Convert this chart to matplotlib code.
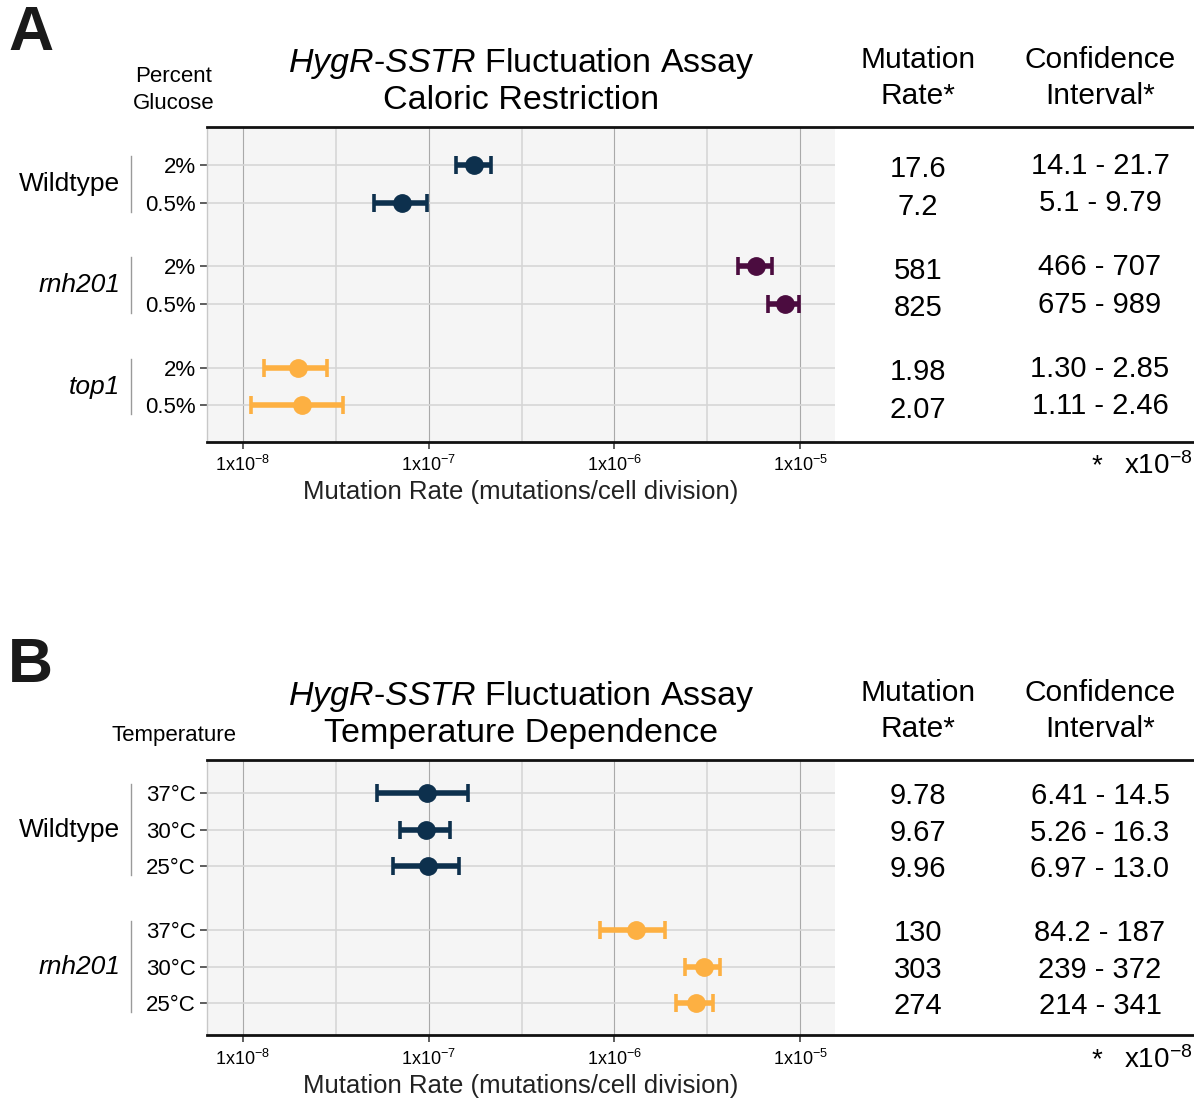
import matplotlib
matplotlib.use("Agg")
import matplotlib.pyplot as plt
import matplotlib.transforms as mtransforms
from matplotlib.lines import Line2D
import numpy as np

plt.rcParams["font.family"] = ["Liberation Sans", "DejaVu Sans"]
plt.rcParams["mathtext.fontset"] = "custom"
plt.rcParams["mathtext.rm"] = "Liberation Sans"
plt.rcParams["mathtext.it"] = "Liberation Sans:italic"
plt.rcParams["mathtext.bf"] = "Liberation Sans:bold"

# ---- panel A: caloric restriction (rates in units of 1e-8) ----
glucose_groups = ["Wildtype", "rnh201", "top1"]
glucose_levels = ["2%", "0.5%"]
glucose_rate = [17.6, 7.2, 581, 825, 1.98, 2.07]
glucose_lo = [14.1, 5.1, 466, 675, 1.30, 1.11]
glucose_hi = [21.7, 9.79, 707, 989, 2.85, 3.45]
glucose_rate_text = ["17.6", "7.2", "581", "825", "1.98", "2.07"]
glucose_ci_text = ["14.1 - 21.7", "5.1 - 9.79", "466 - 707", "675 - 989",
                   "1.30 - 2.85", "1.11 - 2.46"]

# ---- panel B: temperature dependence ----
temp_groups = ["Wildtype", "rnh201"]
temp_levels = ["37°C", "30°C", "25°C"]
temp_rate = [9.78, 9.67, 9.96, 130, 303, 274]
temp_lo = [5.26, 6.97, 6.41, 84.2, 239, 214]
temp_hi = [16.3, 13.0, 14.5, 187, 372, 341]
temp_rate_text = ["9.78", "9.67", "9.96", "130", "303", "274"]
temp_ci_text = ["6.41 - 14.5", "5.26 - 16.3", "6.97 - 13.0", "84.2 - 187",
                "239 - 372", "214 - 341"]

NAVY = "#0d304d"
PURPLE = "#4b0c3f"
ORANGE = "#fdb042"
glucose_colors = [NAVY, PURPLE, ORANGE]
temp_colors = [NAVY, ORANGE]

W, H = 1194, 1101
fig = plt.figure(figsize=(W / 100, H / 100), dpi=100)


def fx(px):
    return px / W


def fy(py):
    return 1 - py / H


def draw_panel(top, bottom, groups, levels, rate, lo, hi, colors,
               rate_text, ci_text, gap, ylim, title2, side_label, letter,
               rate_off, ci_off):
    left, right = 207, 835
    ax = fig.add_axes([fx(left), fy(bottom), fx(right) - fx(left), (bottom - top) / H])
    ax.set_facecolor("#f5f5f5")
    ax.set_xscale("log")
    ax.set_xlim(10 ** -8.1935, 10 ** -4.812)
    ax.set_ylim(*ylim)

    n = len(levels)
    pos = []
    for g in range(len(groups)):
        for i in range(n):
            pos.append(g * (n + gap) + i)
    pos = np.array(pos)

    # grid
    for d in [-8, -7, -6, -5]:
        ax.axvline(10.0 ** d, color="#a9a9a9", lw=0.8, zorder=0)
    for d in [-7.5, -6.5, -5.5]:
        ax.axvline(10.0 ** d, color="#d6d6d6", lw=1.2, zorder=0)
    for p in pos:
        ax.axhline(p, color="#d6d6d6", lw=1.2, zorder=0)

    r = np.array(rate) * 1e-8
    l = np.array(lo) * 1e-8
    h = np.array(hi) * 1e-8
    for k in range(len(pos)):
        c = colors[k // n]
        ax.errorbar(r[k], pos[k], xerr=[[r[k] - l[k]], [h[k] - r[k]]], fmt="none",
                    ecolor=c, elinewidth=4.0, capsize=6.5, capthick=2.6, zorder=3)
        ax.plot(r[k], pos[k], "o", color=c, ms=12.5, mec=c, zorder=4)

    ax.set_yticks(pos)
    ax.set_yticklabels(levels * len(groups), fontsize=16)
    ax.set_xticks([1e-8, 1e-7, 1e-6, 1e-5])
    ax.set_xticklabels([r"$\mathrm{1x10^{-%d}}$" % d for d in [8, 7, 6, 5]], fontsize=13)
    ax.minorticks_off()
    ax.tick_params(axis="y", length=5, width=1.1, color="#333333", pad=3)
    ax.tick_params(axis="x", length=5, width=1.1, color="#333333", pad=5)
    for s in ["top", "right", "bottom"]:
        ax.spines[s].set_visible(False)
    ax.spines["left"].set_color("#c8c8c8")
    ax.spines["left"].set_linewidth(1)

    # heavy rules across plot and table
    span = (W - left) / (right - left)
    for yy in [0, 1]:
        ax.add_line(Line2D([0, span], [yy, yy], transform=ax.transAxes, color="#111111",
                           lw=2.0, clip_on=False, zorder=5))

    # group labels + separators
    trans = mtransforms.blended_transform_factory(fig.transFigure, ax.transData)
    for g, name in enumerate(groups):
        p0, p1 = pos[g * n], pos[g * n + n - 1]
        style = "normal" if name == "Wildtype" else "italic"
        fig.text(fx(120), (p0 + p1) / 2, name, transform=trans, ha="right",
                 va="center", fontsize=19, style=style)
        fig.add_artist(Line2D([fx(131), fx(131)], [p0 - 0.24, p1 + 0.24], transform=trans,
                              color="#9a9a9a", lw=1.0))

    # table
    for k, p in enumerate(pos):
        fig.text(fx(918), p + rate_off, rate_text[k], transform=trans, ha="center",
                 va="center", fontsize=21)
        fig.text(fx(1100), p + ci_off, ci_text[k], transform=trans, ha="center",
                 va="center", fontsize=21)

    head_y = top - 49
    fig.text(fx(918), fy(head_y), "Mutation\nRate*", ha="center", va="center",
             fontsize=21.5, linespacing=1.32)
    fig.text(fx(1100), fy(head_y), "Confidence\nInterval*", ha="center", va="center",
             fontsize=21.5, linespacing=1.32)
    fig.text(fx(521), fy(top - 46), r"$\mathit{HygR}$-$\mathit{SSTR}$ Fluctuation Assay"
             + "\n" + title2, ha="center", va="center", fontsize=24.5, linespacing=1.2)
    fig.text(fx(174), fy(top - 37 if "\n" in side_label else top - 24), side_label,
             ha="center", va="center", fontsize=16, linespacing=1.38)

    fig.text(fx(521), fy(bottom + 51), "Mutation Rate (mutations/cell division)",
             ha="center", va="center", fontsize=18.5, color="#222222")
    fig.text(fx(1097), fy(bottom + 25), "*", ha="center", va="center", fontsize=20)
    fig.text(fx(1124), fy(bottom + 25), r"x10$^{-8}$", ha="left", va="center", fontsize=20)

    fig.text(fx(8), fy(top - 94), letter, ha="left", va="center", fontsize=45,
             weight="bold", color="#1a1a1a")
    return ax


draw_panel(127, 441.5, glucose_groups, glucose_levels, glucose_rate, glucose_lo,
           glucose_hi, glucose_colors, glucose_rate_text, glucose_ci_text,
           gap=0.7, ylim=(7.36, -1.01), title2="Caloric Restriction",
           side_label="Percent\nGlucose", letter="A", rate_off=0.11, ci_off=0.02)

draw_panel(760, 1035, temp_groups, temp_levels, temp_rate, temp_lo, temp_hi,
           temp_colors, temp_rate_text, temp_ci_text,
           gap=0.75, ylim=(6.62, -0.91), title2="Temperature Dependence",
           side_label="Temperature", letter="B", rate_off=0.08, ci_off=0.08)

fig.savefig("out.png", dpi=100)
